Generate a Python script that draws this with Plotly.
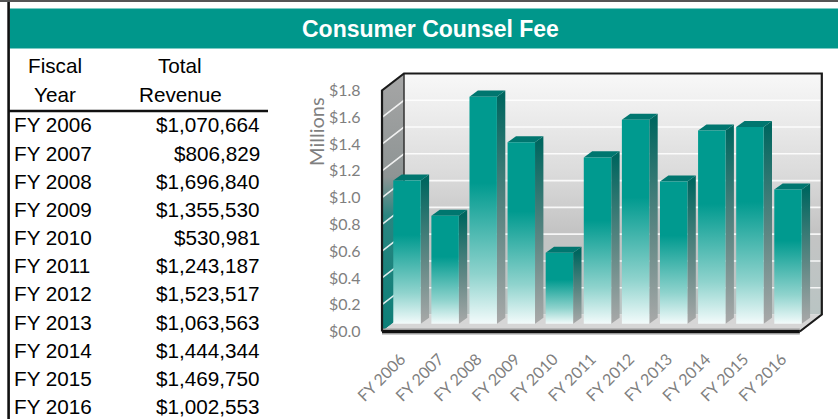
import plotly.graph_objects as go

# ---------------- data ----------------
years = ["FY 2006", "FY 2007", "FY 2008", "FY 2009", "FY 2010", "FY 2011",
         "FY 2012", "FY 2013", "FY 2014", "FY 2015", "FY 2016"]
revenue = [1070664, 806829, 1696840, 1355530, 530981, 1243187,
           1523517, 1063563, 1444344, 1469750, 1002553]
y_tick_vals = [0.0, 0.2, 0.4, 0.6, 0.8, 1.0, 1.2, 1.4, 1.6, 1.8]
y_tick_text = ["$0.0", "$0.2", "$0.4", "$0.6", "$0.8", "$1.0", "$1.2", "$1.4", "$1.6", "$1.8"]
title_text = "Consumer Counsel Fee"
table_head_1 = ["Fiscal", "Year"]
table_head_2 = ["Total", "Revenue"]

W, H = 838, 419
TEAL = "#00978b"

# ---------------- geometry of the pseudo-3D chart (axis units) ----------------
X0PIX, PXX = 407.0, 38.1     # pixel of x=0, pixels per x unit
Y0PIX, PXY = 331.5, 133.9    # pixel of y=0, pixels per y unit
XMIN, XMAX = -0.9, 11.2
YMIN, YMAX = -0.06, 2.02
DX, DY = 22 / PXX, 17 / PXY          # full depth of the box
XL, XR = -0.656, 10.31               # front-left / front-right of floor
YTOP = y_tick_vals[-1]
T_FRONT = 0.45                       # depth fraction of bar front faces
BASE = T_FRONT * DY
HW = 0.36                            # half width of bar front face
BDX, BDY = 0.22, 0.045               # bar depth

def px(x):
    return x / W

def py(y):
    return 1 - y / H

fig = go.Figure()

def poly(xs, ys, fill=None, grad=None, line=None):
    kw = dict(x=xs, y=ys, mode="lines", hoverinfo="skip", showlegend=False)
    if fill is not None or grad is not None:
        kw["fill"] = "toself"
        kw["fillcolor"] = fill or "rgba(0,0,0,0)"
    if grad is not None:
        kw["fillgradient"] = grad
    kw["line"] = line or dict(width=0, color="rgba(0,0,0,0)")
    fig.add_trace(go.Scatter(**kw))

# back wall
bx0, bx1 = XL + DX, XR + DX
poly([bx0, bx1, bx1, bx0, bx0], [DY, DY, YTOP + DY, YTOP + DY, DY],
     fill="#dddddd",
     grad=dict(type="vertical", start=DY, stop=YTOP + DY,
               colorscale=[[0, "#b9c4c3"], [0.35, "#c4c4c4"], [0.6, "#dcdcdc"], [1, "#f8f8f8"]]))
# left wall
poly([XL, XL + DX, XL + DX, XL, XL], [0, DY, YTOP + DY, YTOP, 0],
     fill="#999999",
     grad=dict(type="vertical", start=0, stop=YTOP + DY,
               colorscale=[[0, "#0c7f78"], [0.45, "#2a8580"], [0.6, "#8e9494"], [1, "#a6a6a6"]]))
# floor
poly([XL, XR, XR + DX, XL + DX, XL], [0, 0, DY, DY, 0], fill="#d6d6d6")

# grid lines on walls
for v in y_tick_vals[1:]:
    poly([XL, XL + DX, XR + DX], [v, v + DY, v + DY],
         line=dict(color="rgba(255,255,255,0.85)", width=1.6))
# back-left edge
poly([XL + DX, XL + DX], [YTOP + DY, DY], line=dict(color="#333333", width=1.5))

# bars
for i, val in enumerate(revenue):
    v = val / 1e6
    x0, x1 = i - HW, i + HW
    top = BASE + v
    # side face
    poly([x1, x1 + BDX, x1 + BDX, x1, x1], [BASE, BASE + BDY, top + BDY, top, BASE],
         fill="#00665f",
         grad=dict(type="vertical", start=BASE, stop=top,
                   colorscale=[[0, "#a9a9a9"], [0.45, "#5f8784"], [1, "#00665f"]]))
    # top face
    poly([x0, x1, x1 + BDX, x0 + BDX, x0], [top, top, top + BDY, top + BDY, top],
         fill="#00766f")
    # front face
    poly([x0, x1, x1, x0, x0], [BASE, BASE, top, top, BASE],
         fill=TEAL,
         grad=dict(type="vertical", start=BASE, stop=BASE + 0.62 * v,
                   colorscale=[[0, "#f3fbfb"], [0.35, "#8fd3cd"], [1, "#009a8f"]]))

# frame outline
poly([XL, XR], [0, 0], line=dict(color="#9a9a9a", width=6))
poly([XL, XR], [0, 0], line=dict(color="#111111", width=3))
poly([XR, XR + DX, XR + DX, XL + DX, XL, XL],
     [0, DY, YTOP + DY, YTOP + DY, YTOP, 0], line=dict(color="#1a1a1a", width=2.2))

fig.update_layout(
    width=W, height=H,
    margin=dict(l=0, r=0, t=0, b=0, autoexpand=False),
    paper_bgcolor="white", plot_bgcolor="rgba(0,0,0,0)",
    xaxis=dict(range=[XMIN, XMAX], automargin=False,
               domain=[(X0PIX + XMIN * PXX) / W, (X0PIX + XMAX * PXX) / W],
               tickvals=list(range(len(years))), ticktext=years, tickangle=-45,
               ticks="outside", ticklen=3, tickcolor="rgba(0,0,0,0)",
               ticklabelshift=-6,
               tickfont=dict(family="Lato, Carlito, sans-serif", size=16, color="#7f7f7f"),
               showgrid=False, zeroline=False, showline=False),
    yaxis=dict(range=[YMIN, YMAX], automargin=False,
               domain=[1 - (Y0PIX - YMIN * PXY) / H, 1 - (Y0PIX - YMAX * PXY) / H],
               tickvals=y_tick_vals, ticktext=y_tick_text,
               ticks="outside", ticklen=8, tickcolor="rgba(0,0,0,0)",
               tickfont=dict(family="Lato, Carlito, sans-serif", size=16, color="#7f7f7f"),
               showgrid=False, zeroline=False, showline=False),
)

# header band and table rules
fig.add_shape(type="rect", xref="paper", yref="paper",
              x0=px(9.5), x1=px(W), y0=py(48.5), y1=py(8.5),
              fillcolor=TEAL, line=dict(width=0), layer="below")
fig.add_shape(type="line", xref="paper", yref="paper",
              x0=px(0), x1=px(W), y0=py(1), y1=py(1),
              line=dict(color="#555555", width=2))
fig.add_shape(type="line", xref="paper", yref="paper",
              x0=px(8.6), x1=px(8.6), y0=py(2), y1=py(H),
              line=dict(color="#111111", width=2.6))
fig.add_shape(type="line", xref="paper", yref="paper",
              x0=px(8.6), x1=px(268), y0=py(111), y1=py(111),
              line=dict(color="#111111", width=2.6))

def note(x, y, text, font, xanchor="center", angle=0):
    fig.add_annotation(x=px(x), y=py(y), xref="paper", yref="paper",
                       xanchor=xanchor, yanchor="middle", text=text,
                       showarrow=False, font=font, textangle=angle)

note(430, 29.5, f"<b>{title_text}</b>",
     dict(family="Liberation Sans, Arial, sans-serif", size=23, color="white"))

TF = dict(family="Liberation Sans, Arial, sans-serif", size=20.7, color="black")
for k, t in enumerate(table_head_1):
    note(55, 66 + 29 * k, t, TF)
for k, t in enumerate(table_head_2):
    note(180, 66 + 29 * k, t, TF)
for k, (yr, val) in enumerate(zip(years, revenue)):
    yy = 125 + 28.15 * k
    note(12, yy, yr, TF, xanchor="left")
    note(262, yy, f"${val:,}", TF, xanchor="right")

note(316, 132, "Millions", dict(family="Lato, Carlito, sans-serif", size=20, color="#7f7f7f"),
     angle=-90)

fig.write_html("out.html", config={"displayModeBar": False},
               post_script="document.body.style.margin='0px';")
